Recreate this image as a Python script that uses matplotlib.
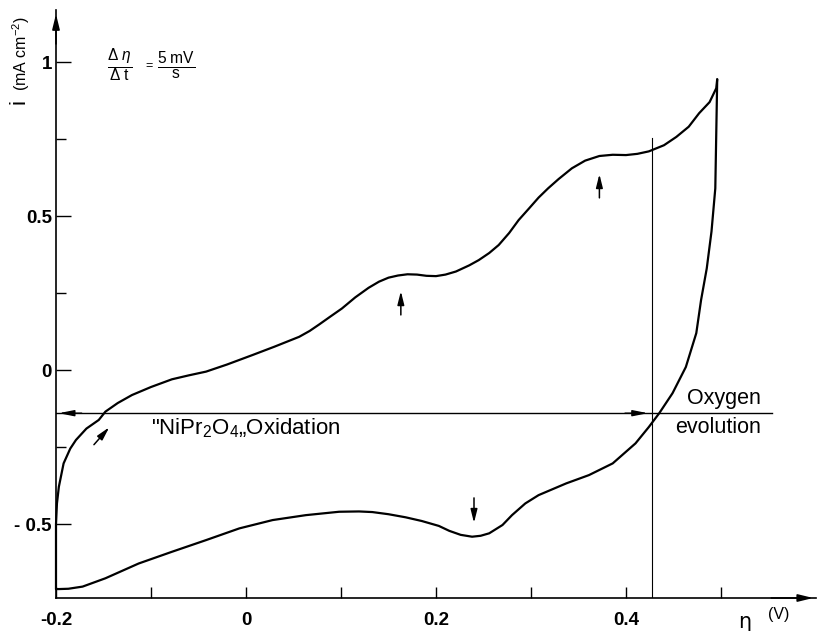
import matplotlib
matplotlib.use("Agg")
import matplotlib.pyplot as plt

plt.rcParams['font.family'] = ['Liberation Sans', 'DejaVu Sans']
plt.rcParams['mathtext.fontset'] = 'custom'
plt.rcParams['mathtext.rm'] = 'Liberation Sans'
plt.rcParams['mathtext.it'] = 'Liberation Sans:italic'
plt.rcParams['mathtext.bf'] = 'Liberation Sans:bold'

# ---- data (overpotential eta in V, current density i in mA cm^-2)
anodic_eta = [-0.200, -0.200, -0.200, -0.199, -0.197, -0.192, -0.185, -0.179, -0.168, -0.155,
              -0.148, -0.135, -0.120, -0.100, -0.078, -0.060, -0.042, -0.020, 0.007, 0.030,
              0.056, 0.067, 0.077, 0.088, 0.101, 0.115, 0.129, 0.140, 0.150, 0.160, 0.170,
              0.180, 0.190, 0.200, 0.210, 0.221, 0.235, 0.245, 0.256, 0.266, 0.277, 0.287,
              0.298, 0.308, 0.318, 0.329, 0.343, 0.357, 0.372, 0.386, 0.400, 0.412, 0.424,
              0.440, 0.453, 0.466, 0.477, 0.488, 0.495, 0.496]
anodic_i = [-0.711, -0.60, -0.50, -0.433, -0.379, -0.303, -0.255, -0.227, -0.19, -0.162,
            -0.135, -0.107, -0.081, -0.055, -0.030, -0.017, -0.005, 0.018, 0.049, 0.076,
            0.108, 0.127, 0.148, 0.172, 0.200, 0.236, 0.267, 0.287, 0.300, 0.307, 0.311,
            0.310, 0.306, 0.305, 0.310, 0.320, 0.340, 0.357, 0.380, 0.406, 0.445, 0.487,
            0.525, 0.560, 0.590, 0.620, 0.655, 0.680, 0.695, 0.699, 0.698, 0.702, 0.710,
            0.730, 0.757, 0.790, 0.834, 0.870, 0.915, 0.944]
cathodic_eta = [0.496, 0.494, 0.490, 0.485, 0.479, 0.474, 0.463, 0.449, 0.435, 0.424,
                0.410, 0.386, 0.361, 0.337, 0.308, 0.294, 0.280, 0.270, 0.256, 0.247,
                0.238, 0.226, 0.214, 0.203, 0.185, 0.168, 0.150, 0.133, 0.119, 0.098,
                0.063, 0.028, -0.007, -0.042, -0.078, -0.113, -0.148, -0.172, -0.187,
                -0.197, -0.200]
cathodic_i = [0.944, 0.59, 0.45, 0.33, 0.227, 0.12, 0.010, -0.075, -0.140, -0.185,
              -0.238, -0.303, -0.341, -0.368, -0.406, -0.433, -0.471, -0.503, -0.530, -0.538,
              -0.541, -0.535, -0.522, -0.506, -0.490, -0.478, -0.468, -0.461, -0.459, -0.460,
              -0.471, -0.487, -0.514, -0.552, -0.590, -0.628, -0.676, -0.703, -0.710,
              -0.711, -0.711]

x_ticks = [-0.2, -0.1, 0.0, 0.1, 0.2, 0.3, 0.4, 0.5]
x_tick_labels = ['-0.2', '', '0', '', '0.2', '', '0.4', '']
y_major_ticks = [-0.5, 0.0, 0.5, 1.0]
y_major_labels = ['- 0.5', '0', '0.5', '1']
y_minor_ticks = [-0.25, 0.25, 0.75]

# marker arrows along the curve: (tail_eta, tail_i, tip_eta, tip_i)
sweep_arrows = [(-0.162, -0.249, -0.142, -0.179),
                (0.163, 0.17, 0.163, 0.265),
                (0.372, 0.55, 0.372, 0.645),
                (0.240, -0.406, 0.240, -0.505)]
range_level = -0.14
range_left, range_mid, range_right = -0.2, 0.426, 0.554
oxygen_onset = 0.427
oxygen_line_top = 0.753

fig = plt.figure(figsize=(8.21, 6.31), dpi=100)
ax = fig.add_axes([56 / 821, 33 / 631, 760 / 821, 588 / 631])
ax.set_xlim(-0.2, 0.6)
ax.set_ylim(-0.74, 1.169)

for s in ('top', 'right'):
    ax.spines[s].set_visible(False)
for s in ('left', 'bottom'):
    ax.spines[s].set_linewidth(1.2)

ax.set_xticks(x_ticks)
ax.set_xticklabels(x_tick_labels, fontweight='bold')
ax.set_yticks(y_major_ticks)
ax.set_yticklabels(y_major_labels, fontweight='bold')
ax.set_yticks(y_minor_ticks, minor=True)
ax.tick_params(axis='x', direction='in', length=8, width=1.0, pad=10, labelsize=13.5)
ax.tick_params(axis='y', which='major', direction='in', length=11, width=1.0, pad=3, labelsize=13.5)
ax.tick_params(axis='y', which='minor', direction='in', length=7, width=1.0)

# axis arrowheads
ax.annotate('', xy=(0.6, -0.74), xytext=(0.55, -0.74), annotation_clip=False,
            arrowprops=dict(arrowstyle='-|>,head_length=0.9,head_width=0.22', lw=1.2, color='black'))
ax.annotate('', xy=(-0.2, 1.165), xytext=(-0.2, 1.05), annotation_clip=False,
            arrowprops=dict(arrowstyle='-|>,head_length=0.9,head_width=0.22', lw=1.2, color='black'))

# voltammogram
ax.plot(anodic_eta, anodic_i, color='black', lw=1.6, solid_capstyle='round',
        solid_joinstyle='round', clip_on=False)
ax.plot(cathodic_eta, cathodic_i, color='black', lw=1.6, solid_capstyle='round',
        solid_joinstyle='round', clip_on=False)

# sweep-direction arrows
for te, ti, he, hi in sweep_arrows:
    ax.annotate('', xy=(he, hi), xytext=(te, ti),
                arrowprops=dict(arrowstyle='-|>,head_length=0.8,head_width=0.2', lw=1.1, color='black'))

# range line with arrows
ax.plot([range_left, range_right], [range_level, range_level], color='black', lw=1.0)
ax.annotate('', xy=(range_left, range_level), xytext=(range_left + 0.03, range_level),
            arrowprops=dict(arrowstyle='-|>,head_length=0.9,head_width=0.18', lw=1.0, color='black'))
ax.annotate('', xy=(range_mid, range_level), xytext=(range_mid - 0.03, range_level),
            arrowprops=dict(arrowstyle='-|>,head_length=0.9,head_width=0.18', lw=1.0, color='black'))

# oxygen evolution onset line
ax.plot([oxygen_onset, oxygen_onset], [-0.74, oxygen_line_top], color='black', lw=0.8)

# texts
ax.text(-0.1, range_level - 0.012, '"NiPr$_2$O$_4$„Oxidation', fontsize=16, ha='left', va='top')
ax.text(0.542, range_level + 0.012, 'Oxygen', fontsize=15.5, ha='right', va='bottom')
ax.text(0.542, range_level - 0.012, 'evolution', fontsize=15.5, ha='right', va='top')

fig.text(19 / 821, 1 - 102 / 631, 'i', fontsize=16, rotation=90, ha='center', va='center')
fig.text(21 / 821, 1 - 54 / 631, '(mA cm$^{-2}$)', fontsize=11.5, rotation=90, ha='center', va='center')

fig.text(120 / 821, 1 - 66 / 631, r'$\frac{\Delta\ \eta}{\Delta\ \mathrm{t}}$', fontsize=16, ha='center', va='center')
fig.text(149 / 821, 1 - 66 / 631, '=', fontsize=9, ha='center', va='center')
fig.text(176 / 821, 1 - 66 / 631, r'$\frac{5\ \mathrm{mV}}{\mathrm{s}}$', fontsize=16, ha='center', va='center')

fig.text(745 / 821, 1 - 622 / 631, 'η', fontsize=15, ha='center', va='center', family=['DejaVu Sans'])
fig.text(779 / 821, 1 - 614 / 631, '(V)', fontsize=11.5, ha='center', va='center')

fig.savefig('out.png', dpi=100)
